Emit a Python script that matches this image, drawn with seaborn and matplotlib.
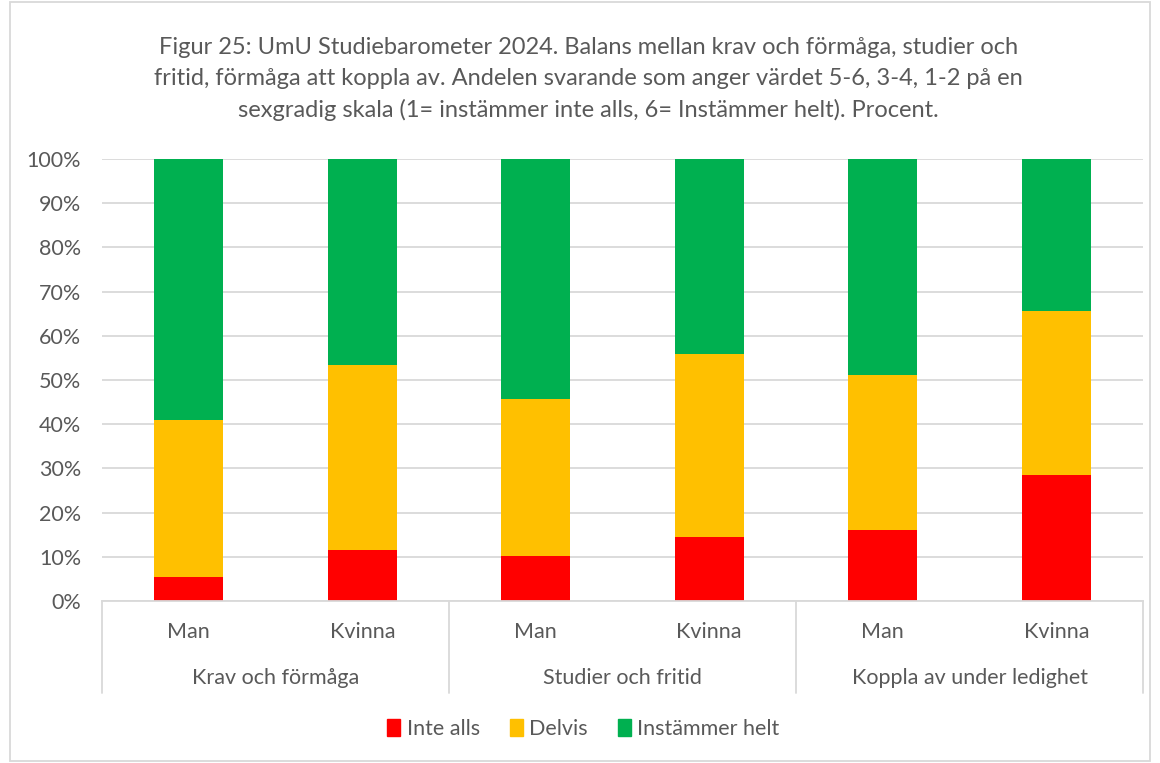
import matplotlib
matplotlib.use("Agg")
import matplotlib.pyplot as plt
import matplotlib.patches as mpatches
import matplotlib.transforms as mtransforms
import numpy as np
import seaborn as sns

# Data (percent)
groups = ['Krav och förmåga', 'Studier och fritid', 'Koppla av under ledighet']
genders = ['Man', 'Kvinna']
inte_alls = [5.5, 11.6, 10.2, 14.4, 16.0, 28.6]
delvis = [35.4, 41.8, 35.6, 41.4, 35.1, 37.0]
instammer = [59.1, 46.6, 54.2, 44.2, 48.9, 34.4]

series_names = ['Inte alls', 'Delvis', 'Instämmer helt']
colors = ['#FF0000', '#FFC000', '#00B050']
txt_color = '#595959'

title = ('Figur 25: UmU Studiebarometer 2024. Balans mellan krav och förmåga, studier och\n'
         'fritid, förmåga att koppla av. Andelen svarande som anger värdet 5-6, 3-4, 1-2 på en\n'
         'sexgradig skala (1= instämmer inte alls, 6= Instämmer helt). Procent.')

sns.set_style('white')
plt.rcParams['font.family'] = ['Lato', 'DejaVu Sans']

cats = [g + ' - ' + s for g in groups for s in genders]
bottom_red = np.array(inte_alls)
top_yellow = bottom_red + np.array(delvis)
top_green = top_yellow + np.array(instammer)

fig = plt.figure(figsize=(11.6, 7.63), dpi=100)
ax = fig.add_axes([102 / 1160, 1 - 601 / 763, (1143 - 102) / 1160, (601 - 159) / 763])

# stacked bars: draw cumulative totals from back to front
for vals, col in zip([top_green, top_yellow, bottom_red], colors[::-1]):
    sns.barplot(x=cats, y=vals, order=cats, color=col, saturation=1,
                width=0.4, linewidth=0, ax=ax, errorbar=None)

lab_size = 15.5
ax.set_xlim(-0.5, len(cats) - 0.5)
ax.set_ylim(0, 100)
ax.set_yticks(np.arange(0, 101, 10))
ax.set_yticklabels([f'{v}%' for v in range(0, 101, 10)], fontsize=lab_size, color=txt_color)
ax.yaxis.grid(True, color='#d9d9d9', linewidth=1.3)
ax.set_axisbelow(True)
ax.tick_params(axis='both', length=0)
ax.tick_params(axis='y', pad=15)
for side in ['left', 'right', 'top']:
    ax.spines[side].set_visible(False)
ax.spines['bottom'].set_color('#d9d9d9')
ax.spines['bottom'].set_linewidth(1.3)
ax.set_xlabel('')
ax.set_ylabel('')

# two-level category axis
ax.set_xticks(range(len(cats)))
ax.set_xticklabels(genders * len(groups), fontsize=lab_size, color=txt_color)
ax.tick_params(axis='x', pad=15)
trans = mtransforms.blended_transform_factory(ax.transData, ax.transAxes)
axis_h = 442.0
for i, g in enumerate(groups):
    ax.text(2 * i + 0.5, -(678 - 601) / axis_h, g, transform=trans, ha='center',
            va='center', fontsize=lab_size, color=txt_color)
for xd in np.arange(-0.5, len(cats), 2):
    ax.plot([xd, xd], [0, -(693 - 601) / axis_h], transform=trans, color='#d9d9d9',
            linewidth=1.3, clip_on=False)

fig.text(0.5075, 1 - 79 / 763, title, ha='center', va='center', fontsize=17,
         color=txt_color, linespacing=1.55)

handles = [mpatches.Patch(color=c, label=n) for c, n in zip(colors, series_names)]
fig.legend(handles=handles, loc='center', bbox_to_anchor=(0.503, 1 - 729 / 763), ncol=3,
           frameon=False, fontsize=lab_size, handlelength=0.6, handleheight=0.8,
           handletextpad=0.3, columnspacing=1.4, labelcolor=txt_color)

fig.patches.append(mpatches.Rectangle((10 / 1160, 0.002), 1 - 20 / 1160, 0.996,
                                      transform=fig.transFigure, fill=False,
                                      edgecolor='#d9d9d9', linewidth=1.3))

fig.savefig('out.png', dpi=100)
